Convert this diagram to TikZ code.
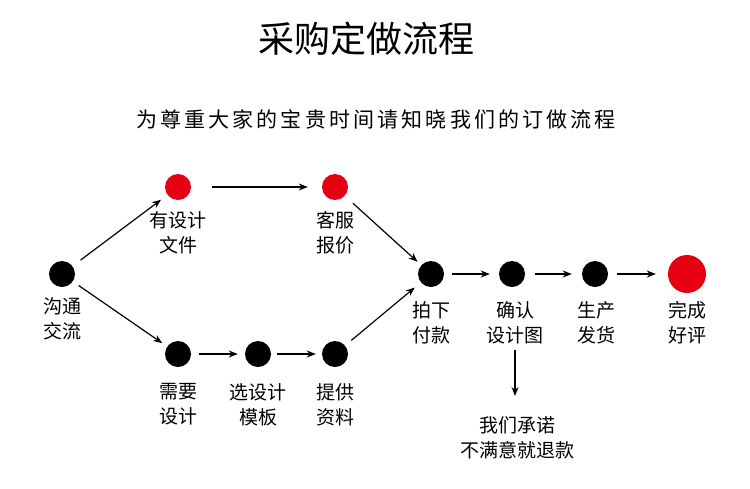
\documentclass[tikz,border=0pt]{standalone}
\usepackage{fontspec}
\setmainfont{Noto Sans CJK SC}
\newfontfamily\cjk{Noto Sans CJK SC}
\newfontfamily\cjkspaced[LetterSpace=15]{Noto Sans CJK SC}
\usetikzlibrary{arrows.meta}
\definecolor{dotred}{RGB}{230,0,18}
\tikzset{
  dot/.style={circle,fill=black,draw=none,minimum size=26pt,inner sep=0pt},
  reddot/.style={dot,fill=dotred},
  lbl/.style={font=\cjk\fontsize{19pt}{25.5pt}\selectfont,align=center,inner sep=0pt,anchor=north},
  arr/.style={-{Stealth[length=9pt,width=7pt]},line width=1.2pt},
}
\begin{document}
\begin{tikzpicture}[x=1pt,y=-1pt]
\useasboundingbox (0,0) rectangle (750,488);
\node[font=\cjk\fontsize{36pt}{40pt}\selectfont,inner sep=0pt] (title) at (366,39) {采购定做流程};
\node[font=\cjkspaced\fontsize{21pt}{24pt}\selectfont,inner sep=0pt] (sub) at (376,119) {为尊重大家的宝贵时间请知晓我们的订做流程};

\node[dot] (a) at (62,274) {};
\node[reddot] (b) at (178,187) {};
\node[reddot] (c) at (335,187) {};
\node[dot] (d) at (178,354) {};
\node[dot] (e) at (258,354) {};
\node[dot] (f) at (335,354) {};
\node[dot] (g) at (431,274) {};
\node[dot] (h) at (512,274) {};
\node[dot] (i) at (595,274) {};
\node[reddot,minimum size=38pt] (j) at (687,274) {};

\node[lbl] (la) at (62,297) {沟通\\交流};
\node[lbl] (lb) at (178,211) {有设计\\文件};
\node[lbl] (lc) at (335,211) {客服\\报价};
\node[lbl] (ld) at (178,383) {需要\\设计};
\node[lbl] (le) at (258,383) {选设计\\模板};
\node[lbl] (lf) at (335,383) {提供\\资料};
\node[lbl] (lg) at (431,301) {拍下\\付款};
\node[lbl] (lh) at (515,301) {确认\\设计图};
\node[lbl] (li) at (596,301) {生产\\发货};
\node[lbl] (lj) at (687,301) {完成\\好评};
\node[lbl] (lk) at (517,416) {我们承诺\\不满意就退款};

\draw[arr,shorten <=10pt,shorten >=8pt] (a) -- (b);
\draw[arr,shorten <=7pt,shorten >=6pt] (a) -- (d);
\draw[arr,shorten <=21pt,shorten >=14pt] (b) -- (c);
\draw[arr,shorten <=11pt,shorten >=5pt] (c) -- (g);
\draw[arr,shorten <=8pt,shorten >=7pt] (d) -- (e);
\draw[arr,shorten <=6pt,shorten >=6pt] (e) -- (f);
\draw[arr,shorten <=8pt,shorten >=8pt] (f) -- (g);
\draw[arr,shorten <=8pt,shorten >=9pt] (g) -- (h);
\draw[arr,shorten <=10pt,shorten >=10pt] (h) -- (i);
\draw[arr,shorten <=9pt,shorten >=12pt] (i) -- (j);
\draw[arr,shorten <=5pt,shorten >=20pt] (lh.south) -- (lh.south |- lk.north);
\end{tikzpicture}
\end{document}
